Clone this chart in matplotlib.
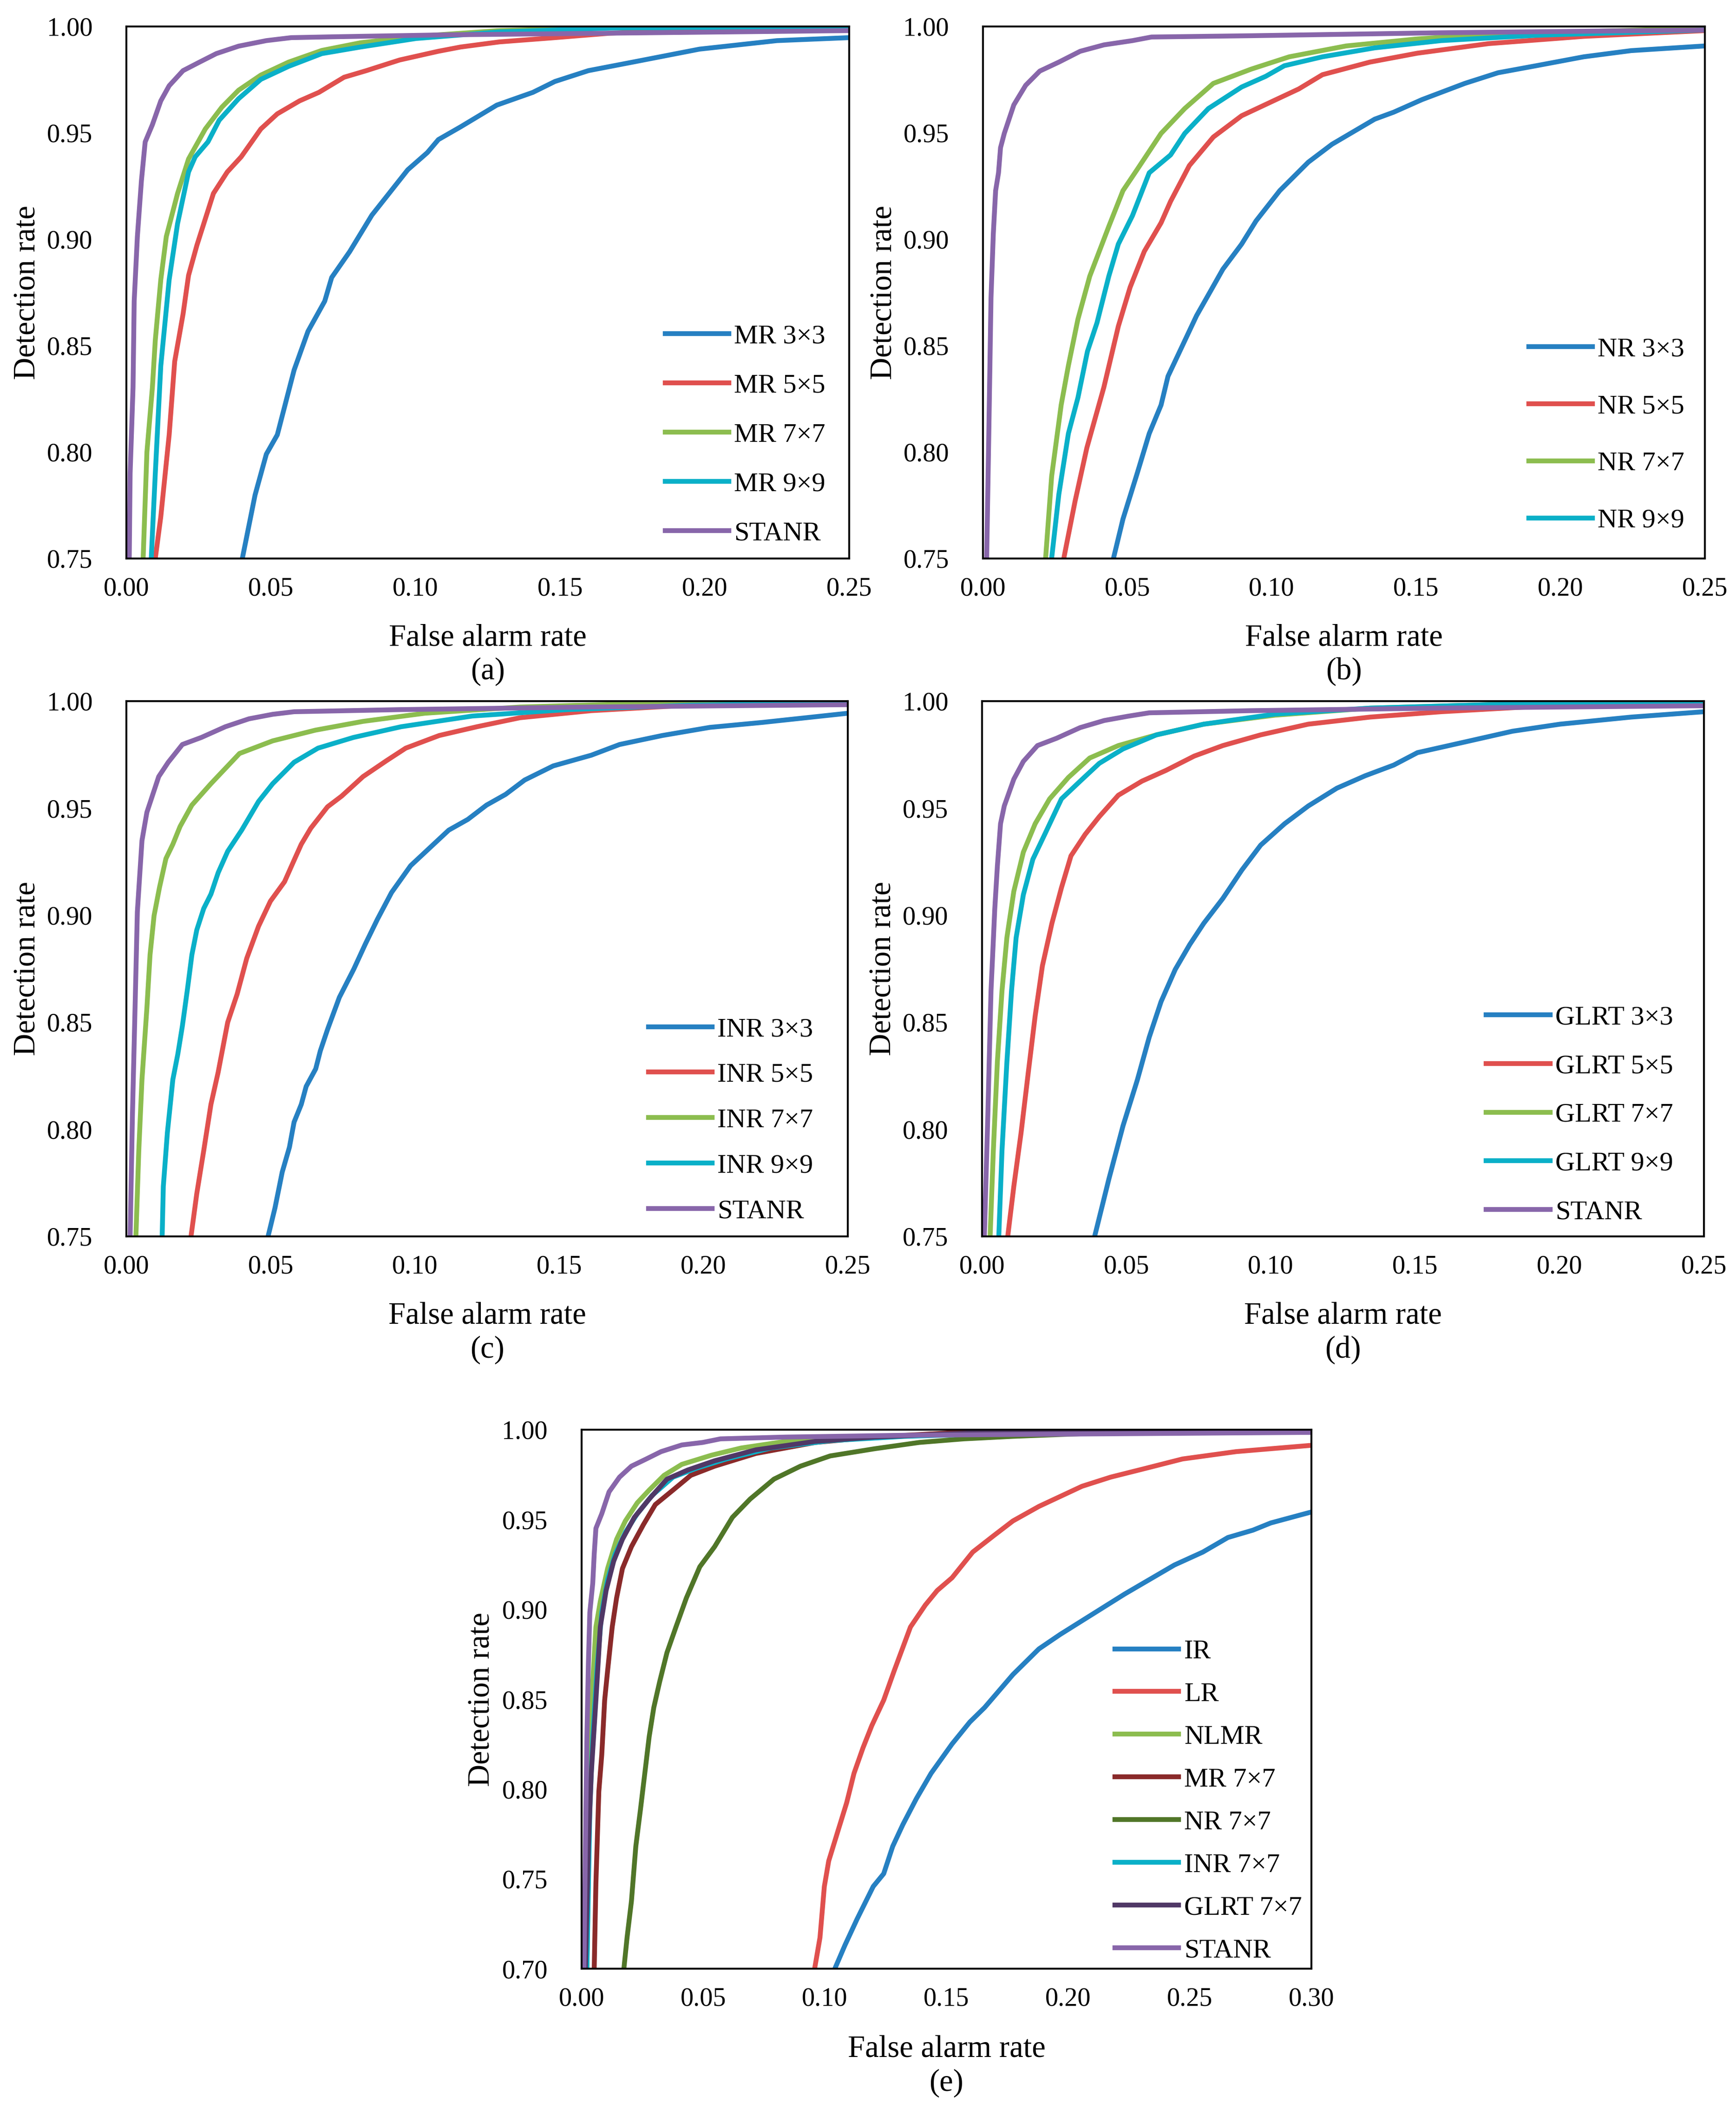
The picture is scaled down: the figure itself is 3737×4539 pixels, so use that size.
"""
ROC curves: five panels (a)-(e), detection rate vs false alarm rate
"""

import matplotlib
matplotlib.use("Agg")
import matplotlib.pyplot as plt
from matplotlib.ticker import MultipleLocator, FormatStrFormatter

plt.rcParams["font.family"] = ["Liberation Serif", "DejaVu Serif"]

BLUE = "#2680c2"
RED = "#e0504e"
GREEN = "#8cbd4f"
CYAN = "#0ab0c8"
PURPLE = "#8866aa"
DARK_RED = "#8a2a2a"
DARK_GREEN = "#507628"
DARK_PURPLE = "#503866"

# ---------- panel (a): MR ----------
a_mr3_fpr = [0.0401, 0.0445, 0.0484, 0.0522, 0.058, 0.0628, 0.0686, 0.071, 0.0772, 0.0849,
             0.0973, 0.1041, 0.1079, 0.1156, 0.1281, 0.1406, 0.1482, 0.1598, 0.1751, 0.1982,
             0.225, 0.25]
a_mr3_tpr = [0.75, 0.7798, 0.799, 0.8081, 0.8385, 0.8567, 0.8709, 0.882, 0.8941, 0.9113,
             0.9326, 0.9407, 0.9468, 0.9528, 0.963, 0.969, 0.9741, 0.9792, 0.9832, 0.9893,
             0.9933, 0.9947]
a_mr5_fpr = [0.010, 0.0119, 0.0148, 0.0167, 0.0196, 0.0215, 0.0244, 0.0301, 0.0349, 0.0397,
             0.0465, 0.0522, 0.0599, 0.0666, 0.0753, 0.083, 0.0945, 0.1079, 0.1156, 0.129,
             0.1482, 0.1674, 0.1866, 0.25]
a_mr5_tpr = [0.75, 0.7696, 0.8081, 0.8425, 0.8648, 0.883, 0.8972, 0.9215, 0.9316, 0.9387,
             0.9518, 0.9589, 0.965, 0.969, 0.9761, 0.9792, 0.9842, 0.9883, 0.9903, 0.9927,
             0.9947, 0.9968, 0.998, 0.9988]
a_mr7_fpr = [0.0058, 0.0071, 0.009, 0.010, 0.0119, 0.0138, 0.0177, 0.0215, 0.0273, 0.033,
             0.0388, 0.0465, 0.0561, 0.0676, 0.081, 0.1002, 0.129, 0.1674, 0.25]
a_mr7_tpr = [0.75, 0.80, 0.8304, 0.8526, 0.881, 0.9012, 0.9215, 0.9377, 0.9518, 0.962,
             0.970, 0.9771, 0.9832, 0.9887, 0.9923, 0.9953, 0.998, 0.9994, 1.0]
a_mr9_fpr = [0.0086, 0.010, 0.0119, 0.0148, 0.0177, 0.0215, 0.0238, 0.0282, 0.0321, 0.0388,
             0.0465, 0.0561, 0.0676, 0.081, 0.1002, 0.129, 0.1674, 0.25]
a_mr9_tpr = [0.75, 0.79, 0.8405, 0.881, 0.9073, 0.9316, 0.9387, 0.9457, 0.9559, 0.966,
             0.9751, 0.9812, 0.9872, 0.9903, 0.9943, 0.9974, 0.9992, 1.0]
a_stanr_fpr = [0.001, 0.0013, 0.0023, 0.0027, 0.0038, 0.0052, 0.0065, 0.009, 0.0119, 0.0148,
               0.0196, 0.0253, 0.0311, 0.0388, 0.0484, 0.057, 0.0714, 0.1098, 0.1674, 0.25]
a_stanr_tpr = [0.75, 0.79, 0.8304, 0.8709, 0.9012, 0.9275, 0.9457, 0.9538, 0.965, 0.9721,
               0.9792, 0.9832, 0.9872, 0.9907, 0.9933, 0.9947, 0.9951, 0.996, 0.9968, 0.998]

# ---------- panel (b): NR ----------
b_nr3_fpr = [0.0452, 0.0485, 0.0535, 0.0576, 0.0617, 0.0641, 0.0699, 0.074, 0.0789, 0.0831,
             0.0896, 0.0946, 0.1028, 0.1127, 0.1209, 0.1357, 0.1423, 0.1521, 0.1669, 0.1784,
             0.1916, 0.2081, 0.2245, 0.25]
b_nr3_tpr = [0.75, 0.7685, 0.7903, 0.8087, 0.8221, 0.8356, 0.8523, 0.8641, 0.8758, 0.8859,
             0.8977, 0.9086, 0.9228, 0.9362, 0.9446, 0.9564, 0.9597, 0.9656, 0.9732, 0.9782,
             0.9815, 0.9857, 0.9886, 0.9908]
b_nr5_fpr = [0.028, 0.0319, 0.036, 0.0419, 0.0469, 0.051, 0.0559, 0.0617, 0.065, 0.0715,
             0.0798, 0.0896, 0.0962, 0.1094, 0.1176, 0.134, 0.1505, 0.1752, 0.2081, 0.25]
b_nr5_tpr = [0.75, 0.7768, 0.802, 0.8305, 0.8591, 0.8775, 0.8943, 0.9077, 0.9178, 0.9346,
             0.948, 0.958, 0.9622, 0.9706, 0.9773, 0.9832, 0.9874, 0.9919, 0.9953, 0.998]
b_nr7_fpr = [0.0217, 0.0238, 0.0271, 0.0296, 0.0329, 0.037, 0.0436, 0.0485, 0.0535, 0.0617,
             0.0699, 0.0798, 0.0929, 0.1061, 0.1258, 0.1505, 0.1752, 0.2081, 0.25]
b_nr7_tpr = [0.75, 0.7886, 0.8221, 0.8406, 0.8624, 0.8826, 0.906, 0.9228, 0.9329, 0.9497,
             0.9614, 0.9732, 0.9799, 0.9857, 0.9908, 0.9941, 0.9963, 0.9975, 0.9992]
b_nr9_fpr = [0.0238, 0.0263, 0.0296, 0.0329, 0.0362, 0.0395, 0.0436, 0.0469, 0.0518, 0.0576,
             0.065, 0.0699, 0.0781, 0.0896, 0.0979, 0.1044, 0.1176, 0.1357, 0.1587, 0.1916,
             0.25]
b_nr9_tpr = [0.75, 0.7802, 0.8087, 0.8255, 0.8473, 0.8607, 0.8826, 0.8977, 0.9111, 0.9312,
             0.9396, 0.9497, 0.9614, 0.9715, 0.9765, 0.9815, 0.9857, 0.9899, 0.9933, 0.9958,
             0.9983]
b_stanr_fpr = [0.0013, 0.002, 0.0028, 0.0036, 0.0044, 0.0054, 0.0061, 0.0074, 0.0107, 0.0148,
               0.0197, 0.0263, 0.0337, 0.0419, 0.0518, 0.0584, 0.0929, 0.1587, 0.25]
b_stanr_tpr = [0.75, 0.8054, 0.8725, 0.9027, 0.9228, 0.9312, 0.943, 0.9497, 0.9631, 0.9723,
               0.979, 0.9832, 0.9883, 0.9913, 0.9933, 0.995, 0.9956, 0.997, 0.9983]

# ---------- panel (c): INR ----------
c_inr3_fpr = [0.0491, 0.0515, 0.054, 0.0565, 0.0581, 0.0606, 0.0623, 0.0656, 0.0672, 0.0697,
              0.0738, 0.0788, 0.0828, 0.087, 0.0919, 0.0985, 0.1051, 0.1117, 0.1183, 0.1248,
              0.1314, 0.138, 0.1479, 0.1611, 0.1709, 0.1857, 0.2022, 0.2203, 0.25]
c_inr3_tpr = [0.75, 0.7633, 0.78, 0.7916, 0.8033, 0.8116, 0.82, 0.8282, 0.8366, 0.8466,
              0.8616, 0.8748, 0.8865, 0.8981, 0.9106, 0.9231, 0.9314, 0.9397, 0.9447, 0.9514,
              0.9564, 0.9631, 0.9697, 0.9747, 0.9797, 0.9839, 0.9877, 0.990, 0.9943]
c_inr5_fpr = [0.0224, 0.0244, 0.0268, 0.0293, 0.0318, 0.0351, 0.0384, 0.0417, 0.0458, 0.0499,
              0.0548, 0.0581, 0.0606, 0.0639, 0.0697, 0.0746, 0.082, 0.0902, 0.0968, 0.1084,
              0.1215, 0.1364, 0.1611, 0.194, 0.25]
c_inr5_tpr = [0.75, 0.77, 0.79, 0.8116, 0.8266, 0.8499, 0.8632, 0.8798, 0.8948, 0.9065,
              0.9156, 0.9256, 0.9331, 0.9406, 0.9506, 0.9556, 0.9647, 0.9722, 0.978, 0.9839,
              0.988, 0.9922, 0.9955, 0.998, 0.9988]
c_inr7_fpr = [0.0033, 0.0043, 0.0054, 0.0071, 0.0082, 0.0096, 0.0115, 0.0137, 0.0161, 0.0186,
              0.0227, 0.0293, 0.0392, 0.0507, 0.0655, 0.082, 0.1034, 0.1364, 0.1775, 0.25]
c_inr7_tpr = [0.75, 0.79, 0.8232, 0.8565, 0.8815, 0.8998, 0.9131, 0.9264, 0.9331, 0.9414,
              0.9514, 0.9614, 0.9755, 0.9814, 0.9864, 0.9905, 0.9943, 0.9972, 0.9988, 0.9997]
c_inr9_fpr = [0.0124, 0.0128, 0.0142, 0.0161, 0.0178, 0.0194, 0.0211, 0.0227, 0.0244, 0.0268,
              0.0293, 0.0318, 0.0351, 0.040, 0.0458, 0.0507, 0.0581, 0.0664, 0.0787, 0.0952,
              0.1199, 0.1528, 0.194, 0.25]
c_inr9_tpr = [0.75, 0.7733, 0.7983, 0.8232, 0.8349, 0.8482, 0.8648, 0.8815, 0.8931, 0.9031,
              0.9098, 0.9198, 0.9298, 0.9398, 0.9531, 0.9614, 0.9714, 0.978, 0.983, 0.988,
              0.993, 0.996, 0.998, 0.9993]
c_stanr_fpr = [0.0013, 0.0021, 0.003, 0.0038, 0.0054, 0.0071, 0.0112, 0.0145, 0.0194, 0.026,
               0.0343, 0.0425, 0.0507, 0.0581, 0.0952, 0.1611, 0.25]
c_stanr_tpr = [0.75, 0.8067, 0.8565, 0.9015, 0.9348, 0.948, 0.9647, 0.9714, 0.9797, 0.983,
               0.988, 0.9917, 0.9938, 0.995, 0.996, 0.9972, 0.9983]

# ---------- panel (d): GLRT ----------
d_glrt3_fpr = [0.039, 0.0439, 0.0488, 0.0538, 0.0579, 0.062, 0.0669, 0.0719, 0.0768, 0.0834,
               0.090, 0.0965, 0.1048, 0.113, 0.1229, 0.1327, 0.1426, 0.1508, 0.1673, 0.1837,
               0.2002, 0.2248, 0.25]
d_glrt3_tpr = [0.75, 0.7766, 0.8015, 0.8231, 0.843, 0.8596, 0.8746, 0.8862, 0.8962, 0.9078,
               0.9211, 0.9327, 0.9427, 0.951, 0.9593, 0.9651, 0.9701, 0.9759, 0.9809, 0.9859,
               0.9892, 0.9925, 0.995]
d_glrt5_fpr = [0.0089, 0.011, 0.0135, 0.016, 0.0184, 0.0209, 0.0242, 0.0275, 0.0308, 0.0357,
               0.0406, 0.0472, 0.0554, 0.0637, 0.0735, 0.0834, 0.0965, 0.113, 0.1344, 0.159,
               0.1919, 0.25]
d_glrt5_tpr = [0.75, 0.7733, 0.7982, 0.8264, 0.853, 0.8763, 0.8962, 0.9128, 0.9277, 0.9377,
               0.946, 0.956, 0.9626, 0.9676, 0.9743, 0.9792, 0.9842, 0.9892, 0.9925, 0.995,
               0.9975, 0.9983]
d_glrt7_fpr = [0.0028, 0.0039, 0.0053, 0.0069, 0.0086, 0.011, 0.0143, 0.0184, 0.0234, 0.0299,
               0.0373, 0.0472, 0.0604, 0.0768, 0.1015, 0.1344, 0.1755, 0.25]
d_glrt7_tpr = [0.75, 0.7899, 0.8314, 0.8646, 0.8895, 0.9111, 0.9294, 0.9427, 0.9543, 0.9643,
               0.9734, 0.9792, 0.9842, 0.9892, 0.9934, 0.9967, 0.9983, 0.9995]
d_glrt9_fpr = [0.0058, 0.0069, 0.0086, 0.0102, 0.0118, 0.0143, 0.0176, 0.0217, 0.0275, 0.034,
               0.0406, 0.0488, 0.0604, 0.0768, 0.1015, 0.1344, 0.1755, 0.25]
d_glrt9_tpr = [0.75, 0.7899, 0.8314, 0.8646, 0.8895, 0.9095, 0.9261, 0.9377, 0.9543, 0.9626,
               0.9709, 0.9776, 0.9842, 0.9892, 0.9939, 0.9967, 0.9983, 0.9995]
d_stanr_fpr = [0.0008, 0.002, 0.0031, 0.0044, 0.0053, 0.0064, 0.0077, 0.011, 0.0143, 0.0192,
               0.0258, 0.034, 0.0423, 0.0505, 0.0579, 0.0932, 0.159, 0.25]
d_stanr_tpr = [0.75, 0.8065, 0.8646, 0.9028, 0.9228, 0.9427, 0.951, 0.9635, 0.9718, 0.9792,
               0.9826, 0.9876, 0.9909, 0.9929, 0.9945, 0.9955, 0.9967, 0.9978]

# ---------- panel (e): comparison ----------
e_ir_fpr = [0.1041, 0.1083, 0.1132, 0.1199, 0.1242, 0.1279, 0.1321, 0.1376, 0.1437, 0.1523,
            0.1596, 0.1657, 0.1773, 0.188, 0.1968, 0.210, 0.2232, 0.2437, 0.2554, 0.2657,
            0.276, 0.2833, 0.30]
e_ir_tpr = [0.70, 0.7132, 0.7275, 0.7458, 0.7529, 0.7681, 0.7803, 0.7946, 0.8088, 0.8251,
            0.8373, 0.8454, 0.8637, 0.878, 0.8861, 0.8973, 0.9085, 0.9247, 0.9319, 0.940,
            0.9441, 0.9481, 0.9542]
e_lr_fpr = [0.0958, 0.098, 0.0998, 0.1016, 0.1053, 0.109, 0.112, 0.1157, 0.1193, 0.1242,
            0.1285, 0.1352, 0.1413, 0.1462, 0.1523, 0.1608, 0.1694, 0.1773, 0.188, 0.2057,
            0.2175, 0.2322, 0.247, 0.2691, 0.30]
e_lr_tpr = [0.70, 0.7173, 0.7458, 0.76, 0.7763, 0.7925, 0.8088, 0.823, 0.8353, 0.8495,
            0.8658, 0.8902, 0.9024, 0.9105, 0.9176, 0.9319, 0.941, 0.9492, 0.9573, 0.9685,
            0.9736, 0.9786, 0.9837, 0.9878, 0.9913]
e_nlmr_fpr = [0.0022, 0.0034, 0.0046, 0.0059, 0.0077, 0.0107, 0.0144, 0.018, 0.0229, 0.0278,
              0.0339, 0.0412, 0.0534, 0.0656, 0.0839, 0.1083, 0.20, 0.30]
e_nlmr_tpr = [0.70, 0.8088, 0.8597, 0.8902, 0.9044, 0.9227, 0.939, 0.9492, 0.9593, 0.9664,
              0.9746, 0.9807, 0.9858, 0.9898, 0.9935, 0.9959, 0.9995, 1.0]
e_mr7_fpr = [0.0052, 0.0059, 0.0071, 0.0083, 0.0095, 0.0107, 0.0126, 0.0144, 0.0168, 0.0205,
             0.0254, 0.0303, 0.0376, 0.0449, 0.0547, 0.0717, 0.0961, 0.1205, 0.17, 0.30]
e_mr7_tpr = [0.70, 0.7478, 0.7986, 0.819, 0.8495, 0.8658, 0.8902, 0.9064, 0.9227, 0.9349,
             0.9471, 0.9583, 0.9664, 0.9746, 0.9797, 0.9868, 0.9929, 0.9959, 0.9996, 1.0]
e_nr7_fpr = [0.0174, 0.0187, 0.0205, 0.0223, 0.0242, 0.026, 0.0278, 0.0297, 0.0321, 0.0351,
             0.0388, 0.0431, 0.0486, 0.0547, 0.062, 0.0693, 0.0791, 0.090, 0.1022, 0.1205,
             0.1388, 0.1571, 0.1773, 0.22, 0.30]
e_nr7_tpr = [0.70, 0.7173, 0.7376, 0.7681, 0.7885, 0.8088, 0.8292, 0.8454, 0.8597, 0.8759,
             0.8902, 0.9064, 0.9237, 0.9349, 0.9512, 0.9614, 0.9725, 0.9797, 0.9854, 0.9894,
             0.9929, 0.9949, 0.9963, 0.9985, 0.9995]
e_inr7_fpr = [0.0022, 0.0034, 0.0046, 0.0065, 0.0083, 0.0107, 0.0138, 0.0181, 0.0229, 0.029,
              0.0376, 0.0473, 0.0595, 0.0778, 0.1022, 0.1327, 0.20, 0.30]
e_inr7_tpr = [0.70, 0.7885, 0.8292, 0.8698, 0.8983, 0.9166, 0.9308, 0.9431, 0.9532, 0.9634,
              0.9736, 0.9786, 0.9837, 0.9898, 0.9939, 0.9963, 0.999, 0.9995]
e_glrt7_fpr = [0.0016, 0.0028, 0.004, 0.0059, 0.0077, 0.0101, 0.0132, 0.0168, 0.0217, 0.0278,
               0.0351, 0.0437, 0.0547, 0.0717, 0.0961, 0.1205, 0.1571, 0.1773, 0.30]
e_glrt7_tpr = [0.70, 0.7681, 0.8088, 0.8495, 0.8902, 0.9105, 0.9268, 0.939, 0.9512, 0.9614,
               0.9725, 0.9776, 0.9827, 0.9888, 0.9935, 0.9959, 0.998, 0.9996, 1.0]
e_stanr_fpr = [0.001, 0.0016, 0.0022, 0.0028, 0.0034, 0.0046, 0.0052, 0.0059, 0.0083, 0.0113,
               0.0156, 0.0205, 0.0266, 0.0327, 0.0412, 0.0498, 0.0571, 0.0839, 0.1327, 0.30]
e_stanr_tpr = [0.70, 0.7681, 0.8292, 0.8698, 0.8983, 0.9146, 0.9308, 0.9451, 0.9532, 0.9654,
               0.9736, 0.9797, 0.9837, 0.9878, 0.9915, 0.9929, 0.9949, 0.9959, 0.9969, 0.9985]


def draw_panel(ax, curves, xmax, ymin, tag, legend_anchor, spacing):
    """
    Рисует одну ROC-панель в стиле Excel
    :curves: список (fpr, tpr, цвет, подпись или None)
    """
    for fpr, tpr, color, label in curves:
        ax.plot(fpr, tpr, color=color, linewidth=2.5,
                label=label if label else "_nolegend_")

    ax.set_xlim(0, xmax)
    ax.set_ylim(ymin, 1.0)
    ax.xaxis.set_major_locator(MultipleLocator(0.05))
    ax.yaxis.set_major_locator(MultipleLocator(0.05))
    ax.xaxis.set_major_formatter(FormatStrFormatter("%.2f"))
    ax.yaxis.set_major_formatter(FormatStrFormatter("%.2f"))
    ax.tick_params(axis="x", length=0, labelsize=13.5, pad=9.5)
    ax.tick_params(axis="y", length=0, labelsize=13.5, pad=17.5)
    for spine in ax.spines.values():
        spine.set_linewidth(1.0)
        spine.set_color("black")

    ax.set_xlabel("False alarm rate", fontsize=16, va="center")
    ax.xaxis.set_label_coords(0.5, -0.149)
    ax.set_ylabel("Detection rate", fontsize=16, va="center")
    ax.yaxis.set_label_coords(-0.137, 0.5)
    ax.text(0.5, -0.212, tag, transform=ax.transAxes,
            ha="center", va="center", fontsize=16)

    ax.legend(loc="lower right", bbox_to_anchor=legend_anchor, frameon=False,
              fontsize=14, handlelength=2.35, handletextpad=0.2,
              labelspacing=spacing, borderpad=0, borderaxespad=0)


fig = plt.figure(figsize=(3737 / 300, 4539 / 300), dpi=300)

ax_a = fig.add_axes([0.0728, 0.7352, 0.4164, 0.2523])
draw_panel(ax_a, [
    (a_mr3_fpr, a_mr3_tpr, BLUE, "MR 3×3"),
    (a_mr5_fpr, a_mr5_tpr, RED, "MR 5×5"),
    (a_mr7_fpr, a_mr7_tpr, GREEN, "MR 7×7"),
    (a_mr9_fpr, a_mr9_tpr, CYAN, "MR 9×9"),
    (a_stanr_fpr, a_stanr_tpr, PURPLE, "STANR"),
], 0.25, 0.75, "(a)", (0.967, 0.024), 0.91)

ax_b = fig.add_axes([0.5662, 0.7352, 0.4158, 0.2523])
draw_panel(ax_b, [
    (b_nr3_fpr, b_nr3_tpr, BLUE, "NR 3×3"),
    (b_nr5_fpr, b_nr5_tpr, RED, "NR 5×5"),
    (b_nr7_fpr, b_nr7_tpr, GREEN, "NR 7×7"),
    (b_nr9_fpr, b_nr9_tpr, CYAN, "NR 9×9"),
    (b_stanr_fpr, b_stanr_tpr, PURPLE, None),
], 0.25, 0.75, "(b)", (0.972, 0.048), 1.2)

ax_c = fig.add_axes([0.0728, 0.4138, 0.4156, 0.2538])
draw_panel(ax_c, [
    (c_inr3_fpr, c_inr3_tpr, BLUE, "INR 3×3"),
    (c_inr5_fpr, c_inr5_tpr, RED, "INR 5×5"),
    (c_inr7_fpr, c_inr7_tpr, GREEN, "INR 7×7"),
    (c_inr9_fpr, c_inr9_tpr, CYAN, "INR 9×9"),
    (c_stanr_fpr, c_stanr_tpr, PURPLE, "STANR"),
], 0.25, 0.75, "(c)", (0.952, 0.024), 0.77)

ax_d = fig.add_axes([0.5657, 0.4138, 0.4158, 0.2538])
draw_panel(ax_d, [
    (d_glrt3_fpr, d_glrt3_tpr, BLUE, "GLRT 3×3"),
    (d_glrt5_fpr, d_glrt5_tpr, RED, "GLRT 5×5"),
    (d_glrt7_fpr, d_glrt7_tpr, GREEN, "GLRT 7×7"),
    (d_glrt9_fpr, d_glrt9_tpr, CYAN, "GLRT 9×9"),
    (d_stanr_fpr, d_stanr_tpr, PURPLE, "STANR"),
], 0.25, 0.75, "(d)", (0.9575, 0.022), 0.89)

ax_e = fig.add_axes([0.335, 0.0665, 0.4204, 0.2556])
draw_panel(ax_e, [
    (e_ir_fpr, e_ir_tpr, BLUE, "IR"),
    (e_lr_fpr, e_lr_tpr, RED, "LR"),
    (e_nlmr_fpr, e_nlmr_tpr, GREEN, "NLMR"),
    (e_mr7_fpr, e_mr7_tpr, DARK_RED, "MR 7×7"),
    (e_nr7_fpr, e_nr7_tpr, DARK_GREEN, "NR 7×7"),
    (e_inr7_fpr, e_inr7_tpr, CYAN, "INR 7×7"),
    (e_glrt7_fpr, e_glrt7_tpr, DARK_PURPLE, "GLRT 7×7"),
    (e_stanr_fpr, e_stanr_tpr, PURPLE, "STANR"),
], 0.30, 0.70, "(e)", (0.987, 0.011), 0.67)

fig.savefig("out.png", dpi=300)
